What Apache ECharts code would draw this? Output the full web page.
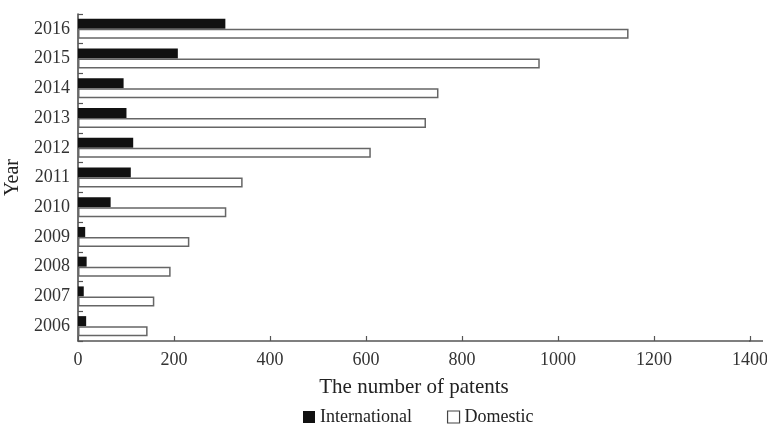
<!DOCTYPE html>
<html>
<head>
<meta charset="utf-8">
<script src="https://cdn.jsdelivr.net/npm/echarts@6/dist/echarts.min.js"></script>
<style>html,body{margin:0;padding:0;background:#fff}#c{width:767px;height:426px}</style>
</head>
<body>
<div id="c"></div>
<script>
var years = ['2006','2007','2008','2009','2010','2011','2012','2013','2014','2015','2016'];
var international = [17, 12, 18, 15, 68, 110, 115, 101, 95, 208, 307];
var domestic = [145, 159, 193, 232, 309, 343, 610, 725, 751, 962, 1147];
var xTicks = [0, 200, 400, 600, 800, 1000, 1200, 1400];

var font = '"Liberation Serif", "Times New Roman", serif';
var chart = echarts.init(document.getElementById('c'), null, {renderer: 'canvas'});
chart.setOption({
  animation: false,
  backgroundColor: '#fff',
  textStyle: {fontFamily: font, color: '#222'},
  grid: {left: 78, right: 17, top: 14, bottom: 85, containLabel: false, outerBoundsMode: 'none'},
  legend: {
    top: 408, left: 298, padding: [0, 5, 0, 5],
    itemWidth: 12, itemHeight: 12, itemGap: 35,
    textStyle: {fontFamily: font, fontSize: 18, color: '#222'},
    data: [
      {name: 'International', icon: 'rect', itemStyle: {color: '#111', borderWidth: 0}},
      {name: 'Domestic', icon: 'rect', itemStyle: {color: '#fff', borderColor: '#444', borderWidth: 1.2}}
    ]
  },
  xAxis: {
    type: 'value', min: xTicks[0], max: xTicks[xTicks.length - 1], interval: 200,
    name: 'The number of patents', nameLocation: 'middle', nameGap: 36,
    nameTextStyle: {fontFamily: font, fontSize: 21, color: '#222'},
    axisLine: {show: true, lineStyle: {color: '#555', width: 1.5}},
    axisTick: {show: true, inside: true, length: 5, lineStyle: {color: '#555', width: 1.2}},
    axisLabel: {fontFamily: font, fontSize: 18, color: '#333', margin: 10,
      formatter: function (v) { return String(v); }},
    splitLine: {show: false}
  },
  yAxis: {
    type: 'category', data: years,
    name: 'Year', nameLocation: 'middle', nameGap: 46,
    nameTextStyle: {fontFamily: font, fontSize: 20, color: '#222'},
    axisLine: {show: true, lineStyle: {color: '#444', width: 1.5}},
    axisTick: {show: true, inside: true, length: 5, lineStyle: {color: '#555', width: 1.2}},
    axisLabel: {fontFamily: font, fontSize: 18, color: '#333', margin: 8},
    splitLine: {show: false}
  },
  graphic: [{
    type: 'line', shape: {x1: 749, y1: 341, x2: 763, y2: 341},
    style: {stroke: '#555', lineWidth: 1.5}, silent: true
  }],
  series: [
    {name: 'International', type: 'bar', data: international, barWidth: 10, barGap: '0%',
     itemStyle: {color: '#111'}},
    {name: 'Domestic', type: 'bar', data: domestic, barWidth: 10, barGap: '0%',
     itemStyle: {color: '#fff', borderColor: '#666', borderWidth: 1.5}}
  ]
});
</script>
</body>
</html>
